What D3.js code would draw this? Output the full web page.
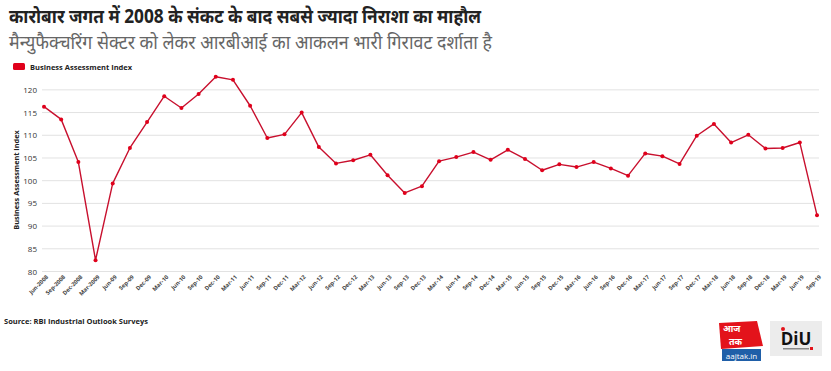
<!DOCTYPE html>
<html lang="hi">
<head>
<meta charset="UTF-8" />
<title>Business Assessment Index</title>
<style>
    body { margin: 0; background: #fff; }
    svg { display: block; font-family: "Open Sans", "Noto Sans", sans-serif; }
</style>
</head>
<body>
<svg id="chart" width="831" height="371"></svg>
<script src="https://cdnjs.cloudflare.com/ajax/libs/d3/7.8.5/d3.min.js"></script>
<script>
const title = 'कारोबार जगत में 2008 के संकट के बाद सबसे ज्यादा निराशा का माहौल';
const subtitle = 'मैन्युफैक्चरिंग सेक्टर को लेकर आरबीआई का आकलन भारी गिरावट दर्शाता है';
const seriesName = 'Business Assessment Index';
const source = 'Source: RBI Industrial Outlook Surveys';

const quarters = [
    'Jun-2008', 'Sep-2008', 'Dec-2008', 'Mar-2009',
    'Jun-09', 'Sep-09', 'Dec-09', 'Mar-10', 'Jun-10', 'Sep-10', 'Dec-10',
    'Mar-11', 'Jun-11', 'Sep-11', 'Dec-11', 'Mar-12', 'Jun-12', 'Sep-12', 'Dec-12',
    'Mar-13', 'Jun-13', 'Sep-13', 'Dec-13', 'Mar-14', 'Jun-14', 'Sep-14', 'Dec-14',
    'Mar-15', 'Jun-15', 'Sep-15', 'Dec-15', 'Mar-16', 'Jun-16', 'Sep-16', 'Dec-16',
    'Mar-17', 'Jun-17', 'Sep-17', 'Dec-17', 'Mar-18', 'Jun-18', 'Sep-18', 'Dec-18',
    'Mar-19', 'Jun-19', 'Sep-19'
];
const index = [
    116.3, 113.5, 104.1, 82.5,
    99.4, 107.2, 112.9, 118.6, 116.0, 119.1, 122.9,
    122.2, 116.5, 109.4, 110.2, 115.0, 107.4, 103.8, 104.5,
    105.7, 101.2, 97.3, 98.8, 104.3, 105.2, 106.3, 104.6,
    106.8, 104.8, 102.3, 103.6, 103.0, 104.1, 102.7, 101.1,
    106.0, 105.4, 103.7, 109.9, 112.5, 108.4, 110.1, 107.1,
    107.2, 108.4, 92.4
];
const yTicks = [80, 85, 90, 95, 100, 105, 110, 115, 120];

const svg = d3.select('#chart');
const lineColor = '#c8102e';

// headings
svg.append('text')
    .attr('x', 9).attr('y', 23)
    .attr('textLength', 472).attr('lengthAdjust', 'spacingAndGlyphs')
    .style('font-size', '19px').style('font-weight', 700).style('fill', '#222')
    .text(title);
svg.append('text')
    .attr('x', 9).attr('y', 49)
    .attr('textLength', 483).attr('lengthAdjust', 'spacingAndGlyphs')
    .style('font-size', '18.5px').style('fill', '#666')
    .text(subtitle);

// legend
svg.append('rect')
    .attr('x', 13).attr('y', 63).attr('width', 12).attr('height', 7).attr('rx', 1.5)
    .attr('fill', '#e0001b');
svg.append('text')
    .attr('x', 30).attr('y', 70)
    .style('font-size', '7.5px').style('font-weight', 700).style('fill', '#222')
    .text(seriesName);

const x = d3.scalePoint().domain(quarters).range([44, 817]);
const y = d3.scaleLinear().domain([80, 124]).range([271.5, 71.7]);

// grid
svg.append('g')
    .selectAll('line')
    .data(yTicks)
    .join('line')
    .attr('x1', 42).attr('x2', 819)
    .attr('y1', d => y(d)).attr('y2', d => y(d))
    .attr('stroke', '#e2e2e2').attr('stroke-width', 1);

// y axis
const yAxis = svg.append('g')
    .attr('transform', 'translate(40,0)')
    .call(d3.axisLeft(y).tickValues(yTicks).tickSize(0).tickPadding(3));
yAxis.select('.domain').remove();
yAxis.selectAll('text')
    .style('font-size', '8px').style('fill', '#333')
    .style('font-family', '"Open Sans", sans-serif');

svg.append('text')
    .attr('transform', 'translate(19,180) rotate(-90)')
    .attr('text-anchor', 'middle')
    .style('font-size', '7.3px').style('font-weight', 700).style('fill', '#222')
    .text(seriesName);

// x axis
const xAxis = svg.append('g')
    .attr('transform', `translate(0,${y(80)})`)
    .call(d3.axisBottom(x).tickSize(0).tickPadding(0));
xAxis.select('.domain').remove();
xAxis.selectAll('text')
    .attr('text-anchor', 'end')
    .attr('dy', 0)
    .attr('transform', 'translate(4,6) rotate(-45)')
    .style('font-size', '5.7px').style('font-weight', 700).style('fill', '#444')
    .style('font-family', '"Open Sans", sans-serif');

// line
const line = d3.line()
    .x((d, i) => x(quarters[i]))
    .y(d => y(d));

svg.append('path')
    .datum(index)
    .attr('d', line)
    .attr('fill', 'none')
    .attr('stroke', lineColor)
    .attr('stroke-width', 1.4)
    .attr('stroke-linejoin', 'round');

svg.append('g')
    .selectAll('circle')
    .data(index)
    .join('circle')
    .attr('cx', (d, i) => x(quarters[i]))
    .attr('cy', d => y(d))
    .attr('r', 2)
    .attr('fill', '#e0001b');

// source
svg.append('text')
    .attr('x', 4).attr('y', 324)
    .style('font-size', '7.5px').style('font-weight', 700).style('fill', '#222')
    .text(source);

// logos
const aaj = svg.append('g').attr('transform', 'translate(717,321)');
aaj.append('path')
    .attr('d', 'M2,2 L40,0 L46,25 L4,28 Z')
    .attr('fill', '#e3131b');
aaj.append('text')
    .attr('x', 6).attr('y', 11)
    .style('font-size', '9px').style('font-weight', 700).style('fill', '#fff')
    .text('आज');
aaj.append('text')
    .attr('x', 12).attr('y', 24)
    .style('font-size', '9px').style('font-weight', 700).style('fill', '#fff')
    .text('तक');
aaj.append('rect')
    .attr('x', 5).attr('y', 28).attr('width', 39).attr('height', 12)
    .attr('fill', '#1f5fa8');
aaj.append('text')
    .attr('x', 24.5).attr('y', 37.5).attr('text-anchor', 'middle')
    .style('font-size', '8px').style('fill', '#fff')
    .text('aajtak.in');

const diu = svg.append('g').attr('transform', 'translate(770,321)');
diu.append('rect')
    .attr('width', 52).attr('height', 35)
    .attr('fill', '#ececec');
diu.append('text')
    .attr('x', 26).attr('y', 24).attr('text-anchor', 'middle')
    .style('font-size', '17px').style('font-weight', 700).style('fill', '#111')
    .text('DiU');
diu.append('circle')
    .attr('cx', 13).attr('cy', 8).attr('r', 2).attr('fill', '#e3131b');
diu.append('rect')
    .attr('x', 13).attr('y', 27).attr('width', 26).attr('height', 1.5).attr('fill', '#888');
diu.append('rect')
    .attr('x', 40).attr('y', 26).attr('width', 3).attr('height', 3).attr('fill', '#e3131b');
</script>
</body>
</html>
